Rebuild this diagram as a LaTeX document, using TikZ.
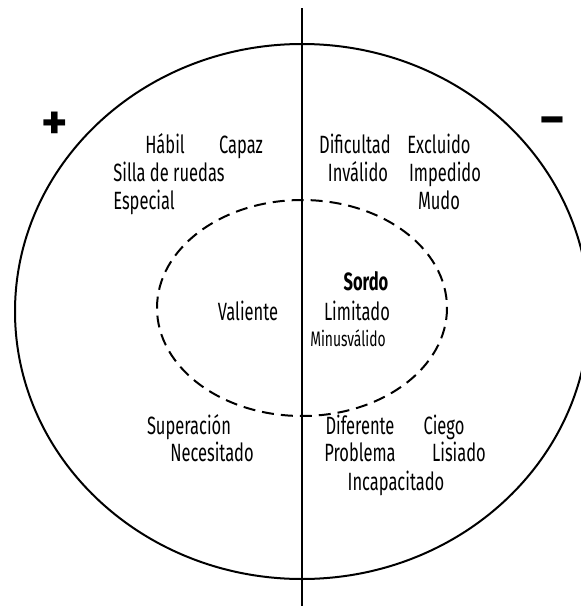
\documentclass[tikz,border=0pt]{standalone}
\usepackage{fontspec}
\setmainfont[FakeStretch=0.66]{Fira Sans}
\newfontfamily\signfont{Fira Sans}
\begin{document}
\begin{tikzpicture}[x=1pt, y=-1pt,
		word/.style={inner sep=0pt, text height=17pt, text depth=0pt,
				font=\fontsize{25}{27}\selectfont},
		small word/.style={word, text height=15pt, font=\fontsize{21}{23}\selectfont},
		sign/.style={inner sep=0pt, font=\signfont\fontsize{50}{50}\selectfont\bfseries}]
		\clip (0,0) rectangle (581,606);
		% outer and inner ellipse, axis
		\draw[line width=2pt] (302,311.5) ellipse (287 and 267.5);
		\draw[line width=2pt, dash pattern=on 12pt off 7pt] (302,308) ellipse (145 and 108);
		\draw[line width=2pt] (302,8) -- (302,606);
		\node[sign] (plus) at (55,126) {+};
		\node[sign] (minus) at (552,127) {−};
		% positive side
		\node[word] (habil) at (165,145) {Hábil};
		\node[word] (capaz) at (241,145) {Capaz};
		\node[word] (silla) at (169,173) {Silla de ruedas};
		\node[word] (especial) at (144,201) {Especial};
		\node[word] (valiente) at (248,312) {Valiente};
		\node[word] (superacion) at (189,426) {Superación};
		\node[word] (necesitado) at (212,453) {Necesitado};
		% negative side
		\node[word] (dificultad) at (355,145) {Dificultad};
		\node[word] (excluido) at (439,145) {Excluido};
		\node[word] (invalido) at (358,173) {Inválido};
		\node[word] (impedido) at (445,173) {Impedido};
		\node[word] (mudo) at (439,201) {Mudo};
		\node[word, font=\fontsize{25}{27}\selectfont\bfseries] (sordo) at (366,282) {Sordo};
		\node[word] (limitado) at (357,312) {Limitado};
		\node[small word] (minusvalido) at (348,339) {Minusválido};
		\node[word] (diferente) at (360,426) {Diferente};
		\node[word] (ciego) at (444,426) {Ciego};
		\node[word] (problema) at (360,453) {Problema};
		\node[word] (lisiado) at (459,453) {Lisiado};
		\node[word] (incapacitado) at (396,482) {Incapacitado};
	\end{tikzpicture}
\end{document}
